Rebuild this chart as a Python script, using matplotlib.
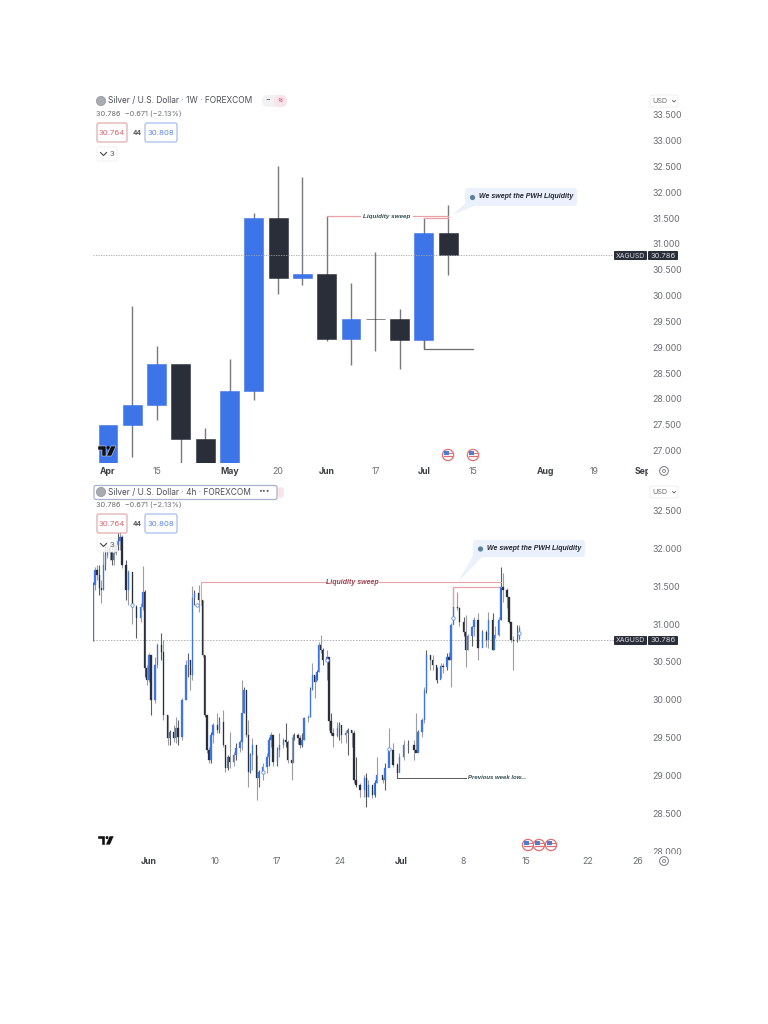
#!/usr/bin/env python3
# -*- coding: utf-8 -*-
"""Silver / U.S. Dollar screenshots, weekly chart on top and 4h chart below."""
import matplotlib
matplotlib.use("Agg")
import matplotlib.pyplot as plt
import matplotlib.patches as mpatches

plt.rcParams["font.family"] = ["Inter", "DejaVu Sans"]

BLUE = "#3d74e8"
DARK = "#2a2e39"
WICK = "#77797f"
GREY_TXT = "#6a6d74"
PINK = "#e9a3a6"

# ── Weekly candles ─────────────────────────────────────────────
wk_open  = [26.70, 27.49, 27.88, 28.68, 27.22, 26.70, 28.16, 31.50,
            30.35, 30.41, 29.16, 29.55, 29.54, 29.14, 31.22]
wk_close = [27.50, 27.88, 28.68, 27.22, 26.70, 28.16, 31.50, 30.35,
            30.41, 29.16, 29.55, 29.54, 29.14, 31.22, 30.786]
wk_high  = [27.50, 29.80, 29.02, 28.68, 27.43, 28.77, 31.60, 32.52,
            32.29, 31.54, 30.25, 30.85, 29.74, 31.50, 31.75]
wk_low   = [26.70, 26.87, 27.58, 26.70, 26.70, 26.70, 27.97, 30.04,
            30.20, 29.12, 28.66, 28.93, 28.57, 28.97, 30.39]
wk_tick_pos = [0, 2, 5, 7, 9, 11, 13, 15, 18, 20, 22]
wk_tick_lab = ["Apr", "15", "May", "20", "Jun", "17", "Jul", "15", "Aug", "19", "Sep"]
wk_months = ["Apr", "May", "Jun", "Jul", "Aug", "Sep"]
wk_prices = [33.5, 33.0, 32.5, 32.0, 31.5, 31.0, 30.5, 30.0, 29.5, 29.0, 28.5, 28.0, 27.5, 27.0]

# ── 4h bars, sparse index ──────────────────────────────────────
h4_idx = [0, 1, 2, 3, 4, 5, 6, 7, 8, 9,
          10, 11, 12, 13, 14, 16, 17, 19, 21, 23,
          24, 25, 26, 27, 28, 30, 31, 33, 34, 36,
          37, 39, 40, 41, 43, 45, 46, 47, 48, 49,
          51, 53, 54, 55, 56, 57, 58, 60, 61, 63,
          64, 65, 66, 68, 69, 71, 72, 73, 74, 75,
          76, 77, 79, 80, 82, 84, 85, 86, 87, 89,
          90, 92, 93, 94, 96, 97, 99, 100, 101, 102,
          104, 105, 106, 107, 108, 109, 110, 111, 113, 114,
          115, 116, 118, 119, 120, 122, 123, 125, 126, 127,
          129, 131, 132, 133, 135, 136, 137, 140, 141, 143,
          145, 147, 148, 150, 152, 155, 156, 157, 159, 160,
          161, 163, 164, 166, 168, 169, 171, 172, 173, 174,
          176, 177, 179, 180, 181, 183, 184, 186, 188, 190,
          191, 193, 194, 196, 197, 198, 200, 201, 202, 203,
          205, 206]
h4_close = [31.51, 31.71, 31.65, 31.48, 31.45, 31.78, 31.91, 32.00, 31.95, 31.84,
            31.94, 32.04, 32.09, 32.15, 31.78, 31.45, 31.69, 31.22, 31.08, 31.22,
            31.42, 30.42, 30.26, 30.59, 30.00, 30.46, 30.72, 30.63, 29.80, 29.50,
            29.58, 29.50, 29.63, 29.51, 30.00, 30.46, 30.53, 30.33, 31.34, 31.41,
            31.32, 30.59, 29.80, 29.34, 29.21, 29.54, 29.67, 29.60, 29.71, 29.41,
            29.10, 29.25, 29.18, 29.27, 29.37, 29.45, 29.83, 30.13, 29.54, 29.05,
            29.27, 29.40, 28.97, 29.05, 29.11, 29.25, 29.47, 29.54, 29.18, 29.34,
            29.40, 29.47, 29.45, 29.21, 29.17, 29.53, 29.50, 29.40, 29.47, 29.76,
            29.78, 30.13, 30.33, 30.24, 30.37, 30.72, 30.66, 30.53, 30.56, 29.72,
            29.56, 29.52, 29.63, 29.67, 29.54, 29.56, 29.60, 29.56, 28.94, 28.88,
            28.81, 28.97, 28.72, 28.88, 28.75, 28.90, 29.01, 28.94, 29.10, 29.34,
            29.14, 29.04, 29.25, 29.40, 29.40, 29.34, 29.30, 29.58, 29.73, 30.13,
            30.59, 30.53, 30.46, 30.26, 30.44, 30.43, 30.56, 30.53, 30.99, 31.22,
            31.21, 31.03, 30.90, 30.66, 30.84, 30.96, 31.05, 30.68, 30.89, 30.79,
            31.05, 30.66, 30.86, 31.05, 31.49, 31.45, 31.36, 31.03, 30.79, 30.77,
            30.80, 30.95]
h4_high = [31.55, 31.75, 31.78, 31.78, 31.58, 31.98, 32.04, 32.09, 32.09, 32.04,
           32.09, 32.11, 32.20, 32.23, 32.17, 31.84, 31.71, 31.62, 31.25, 31.28,
           31.77, 31.45, 30.46, 30.62, 30.59, 30.56, 30.75, 30.88, 30.79, 29.80,
           29.60, 29.67, 29.78, 29.73, 30.03, 30.53, 30.62, 30.43, 31.50, 31.45,
           31.52, 31.32, 30.59, 29.80, 29.38, 29.57, 29.70, 29.83, 29.78, 29.87,
           29.41, 29.27, 29.57, 29.31, 29.43, 29.47, 30.26, 30.17, 30.13, 29.73,
           29.30, 29.50, 29.27, 29.08, 29.17, 29.30, 29.51, 29.58, 29.47, 29.38,
           29.56, 29.50, 29.70, 29.47, 29.51, 29.56, 29.56, 29.53, 29.56, 29.78,
           29.80, 30.17, 30.49, 30.33, 30.40, 30.76, 30.86, 30.69, 30.66, 30.53,
           29.83, 29.63, 29.71, 29.71, 29.67, 29.60, 29.63, 29.60, 29.60, 29.25,
           28.90, 29.01, 29.03, 28.94, 28.81, 28.94, 29.25, 28.98, 29.17, 29.63,
           29.43, 29.17, 29.30, 29.47, 29.47, 29.47, 29.83, 29.60, 29.76, 30.17,
           30.66, 30.59, 30.59, 30.43, 30.49, 30.49, 30.62, 30.63, 31.01, 31.49,
           31.42, 31.22, 31.09, 31.12, 30.87, 30.97, 31.09, 31.14, 30.92, 30.92,
           31.16, 31.14, 30.97, 31.09, 31.75, 31.67, 31.48, 31.34, 31.03, 30.84,
           30.99, 30.99]
h4_low = [30.78, 31.45, 31.58, 31.38, 31.28, 31.45, 31.71, 31.87, 31.84, 31.78,
          31.78, 31.91, 31.98, 31.98, 31.74, 31.32, 31.25, 31.00, 30.82, 31.03,
          31.18, 30.30, 30.20, 30.24, 29.80, 29.96, 30.42, 30.53, 29.73, 29.41,
          29.41, 29.45, 29.43, 29.41, 29.47, 30.00, 30.30, 30.13, 30.26, 31.25,
          31.16, 30.57, 29.78, 29.30, 29.17, 29.17, 29.43, 29.56, 29.56, 29.38,
          29.05, 29.08, 29.10, 29.13, 29.21, 29.31, 29.34, 29.83, 29.51, 28.85,
          29.03, 29.08, 28.68, 28.85, 28.94, 29.03, 29.13, 29.38, 29.13, 29.13,
          29.24, 29.37, 29.38, 29.17, 28.94, 29.47, 29.42, 29.36, 29.38, 29.47,
          29.71, 29.78, 30.13, 30.03, 30.26, 30.37, 30.62, 30.46, 30.26, 29.60,
          29.53, 29.38, 29.51, 29.47, 29.43, 29.43, 29.27, 29.38, 28.90, 28.85,
          28.72, 28.72, 28.59, 28.72, 28.71, 28.72, 28.90, 28.90, 28.81, 29.17,
          29.11, 28.97, 29.08, 29.21, 29.30, 29.21, 29.34, 29.38, 29.51, 29.69,
          30.09, 30.39, 30.39, 30.22, 30.29, 30.36, 30.39, 30.53, 30.17, 31.01,
          31.18, 30.97, 30.84, 30.43, 30.66, 30.71, 30.84, 30.53, 30.75, 30.70,
          30.68, 30.66, 30.82, 30.84, 31.05, 31.29, 31.21, 31.01, 30.76, 30.39,
          30.76, 30.79]
h4_tick_pos = [27, 59, 89, 119, 149, 179, 209, 239, 263]
h4_tick_lab = ["Jun", "10", "17", "24", "Jul", "8", "15", "22", "26"]
h4_months = ["Jun", "Jul"]
h4_prices = [32.5, 32.0, 31.5, 31.0, 30.5, 30.0, 29.5, 29.0, 28.5, 28.0]
alert_idx = [19, 50, 82, 113, 143, 174, 206]
alert_price = [31.25, 31.25, 29.05, 30.53, 29.35, 31.08, 30.88]

LAST = 30.786


def make_axes(fig, left, right, top, bottom):
    ax = fig.add_axes([left / 768, 1 - bottom / 1024, (right - left) / 768, (bottom - top) / 1024])
    for s in ax.spines.values():
        s.set_visible(False)
    ax.yaxis.tick_right()
    ax.tick_params(length=0, labelsize=6.3, labelcolor=GREY_TXT, pad=3)
    ax.patch.set_alpha(0)
    return ax


def style_ticks(ax, xpos, xlab, months, prices):
    ax.set_xticks(xpos, xlab)
    ax.set_yticks(prices, [f"{p:.3f}" for p in prices])
    ax.tick_params(axis="x", pad=3)
    for lab in ax.get_xticklabels():
        if lab.get_text() in months:
            lab.set_fontweight("bold")
            lab.set_color("#3c3f46")


def header(ov, title, y0):
    ov.add_patch(mpatches.Circle((101, y0), 4.6, fc="#a9abb2", ec="#8d9096", lw=0.5))
    ov.text(108, y0, title, fontsize=6.0, color="#4a4d55", va="center")
    ov.text(96, y0 + 13, "30.786  −0.671 (−2.13%)", fontsize=5.3, color=GREY_TXT, va="center")
    top = y0 + 21
    ov.add_patch(mpatches.FancyBboxPatch((97, top + 1), 30, 19, boxstyle="round,pad=0,rounding_size=2",
                                         fc="white", ec="#e0a0a3", lw=0.8))
    ov.text(112, top + 11, "30.764", fontsize=5.6, color="#d9686e", ha="center", va="center")
    ov.text(137, top + 11, "44", fontsize=4.6, color="#555", ha="center", va="center", fontweight="bold")
    ov.add_patch(mpatches.FancyBboxPatch((145, top + 1), 32, 19, boxstyle="round,pad=0,rounding_size=2",
                                         fc="white", ec="#9db6ea", lw=0.8))
    ov.text(161, top + 11, "30.808", fontsize=5.6, color="#5f86df", ha="center", va="center")
    ov.add_patch(mpatches.FancyBboxPatch((97, top + 25), 20, 14, boxstyle="round,pad=0,rounding_size=2",
                                         fc="white", ec="#ececef", lw=0.6, alpha=0.85))
    ov.plot([100.5, 103.5, 106.5], [top + 30.5, top + 33.5, top + 30.5], color="#444", lw=0.8)
    ov.text(112, top + 32, "3", fontsize=5.6, color="#555", ha="center", va="center")


def usd_box(ov, y):
    ov.add_patch(mpatches.FancyBboxPatch((650, y), 28, 12, boxstyle="round,pad=0,rounding_size=2",
                                         fc="white", ec="#ececef", lw=0.6))
    ov.text(652, y + 6, "USD", fontsize=5.2, color=GREY_TXT, va="center")
    ov.plot([672.5, 674, 675.5], [y + 5.5, y + 7, y + 5.5], color="#555", lw=0.6)


def price_tag(ov, y):
    ov.add_patch(mpatches.FancyBboxPatch((614, y - 4.5), 33, 9, boxstyle="round,pad=0,rounding_size=1",
                                         fc=DARK, ec="none"))
    ov.add_patch(mpatches.FancyBboxPatch((648, y - 4.5), 30, 9, boxstyle="round,pad=0,rounding_size=1",
                                         fc=DARK, ec="none"))
    ov.text(630.5, y, "XAGUSD", fontsize=5, color="#d8d9dd", ha="center", va="center")
    ov.text(663, y, "30.786", fontsize=5.4, color="#d8d9dd", ha="center", va="center")


def callout(ov, x0, x1, y0, y1, tail_x, tail_y, text_x):
    ov.add_patch(mpatches.FancyBboxPatch((x0, y0), x1 - x0, y1 - y0, boxstyle="round,pad=0,rounding_size=3",
                                         fc="#eaf1fc", ec="none"))
    ov.add_patch(mpatches.Polygon([(x0 + 1, y1 - 3), (x0 + 9, y1), (tail_x, tail_y)], fc="#eaf1fc", ec="none"))
    ov.add_patch(mpatches.Circle((text_x - 6.5, (y0 + y1) / 2 + 0.5), 2.6, fc="#5c7f9c", ec="none"))
    ov.text(text_x, (y0 + y1) / 2, "We swept the PWH Liquidity", fontsize=5.0, family="Liberation Sans",
            style="italic", fontweight="bold", color="#23262e", va="center")


def tv_logo(ov, x, y, s):
    # s = Breite des Logos in Pixel
    u = s / 18
    ov.add_patch(mpatches.Polygon([(x, y), (x + 8 * u, y), (x + 8 * u, y + 10 * u), (x + 4.2 * u, y + 10 * u),
                                   (x + 4.2 * u, y + 3.6 * u), (x, y + 3.6 * u)], fc="#111", ec="white", lw=0.3))
    ov.add_patch(mpatches.Circle((x + 10.2 * u, y + 1.8 * u), 1.7 * u, fc="#111", ec="none"))
    ov.add_patch(mpatches.Polygon([(x + 13 * u, y), (x + 18 * u, y), (x + 13.5 * u, y + 10 * u),
                                   (x + 8.5 * u, y + 10 * u)], fc="#111", ec="white", lw=0.3))


def flag(ov, x, y):
    ov.add_patch(mpatches.Circle((x, y), 5.6, fc="white", ec="#df6f72", lw=0.9))
    ov.add_patch(mpatches.Rectangle((x - 3.8, y - 3.8), 5, 3.8, fc="#4e7fd0", ec="none"))
    ov.plot([x - 4.2, x + 4.2], [y + 1, y + 1], color="#df6f72", lw=0.9)
    ov.plot([x + 1.4, x + 3.8], [y - 2, y - 2], color="#df6f72", lw=0.7)


def gear(ov, y):
    ov.add_patch(mpatches.Circle((664, y), 4.4, fc="white", ec="#77797f", lw=0.7))
    ov.add_patch(mpatches.Circle((664, y), 1.5, fc="white", ec="#77797f", lw=0.6))


fig = plt.figure(figsize=(7.68, 10.24), dpi=100, facecolor="white")

# ── Weekly chart ───────────────────────────────────────────────
ax1 = make_axes(fig, 93, 648, 93, 463)
ax1.set_xlim(-0.617, 22.22)
ax1.set_ylim(26.756, 33.926)
wk_x = list(range(len(wk_open)))
wk_col = [BLUE if c >= o else DARK for o, c in zip(wk_open, wk_close)]
ax1.vlines(wk_x, wk_low, wk_high, color=WICK, lw=1.0, zorder=2)
ax1.bar(wk_x, [abs(c - o) for o, c in zip(wk_open, wk_close)], bottom=[min(o, c) for o, c in zip(wk_open, wk_close)],
        width=0.78, color=wk_col, edgecolor=wk_col, lw=0.4, zorder=3)
ax1.plot([-0.617, 20.8], [LAST, LAST], color="#a3a5a9", lw=0.6, ls=(0, (1.5, 1.5)), zorder=4)

ax1.plot([9, 10.35], [31.54, 31.54], color=PINK, lw=0.9, zorder=3)
ax1.plot([12.55, 14], [31.54, 31.54], color=PINK, lw=0.9, zorder=3)
ax1.plot([13, 14], [31.50, 31.50], color=PINK, lw=0.9, zorder=3)
ax1.text(11.45, 31.54, "Liquidity sweep", fontsize=4.5, family="Liberation Sans", style="italic",
         fontweight="bold", color="#2f4a4f", ha="center", va="center")
ax1.plot([13, 13, 15], [29.14, 28.97, 28.97], color="#6b6d72", lw=0.9, zorder=3)
style_ticks(ax1, wk_tick_pos, wk_tick_lab, wk_months, wk_prices)

# ── 4h chart ───────────────────────────────────────────────────
ax2 = make_axes(fig, 93, 648, 484, 853)
ax2.set_xlim(0, 268.1)
ax2.set_ylim(27.98, 32.847)
h4_open = [30.78] + h4_close[:-1]
h4_col = [BLUE if c >= o else DARK for o, c in zip(h4_open, h4_close)]
h4_wick = ["#9b9da2" if (i % 3) else "#5b5d63" for i in range(len(h4_idx))]
ax2.vlines(h4_idx, h4_low, h4_high, color=h4_wick, lw=0.8, zorder=2)
ax2.bar(h4_idx, [abs(c - o) for o, c in zip(h4_open, h4_close)], bottom=[min(o, c) for o, c in zip(h4_open, h4_close)],
        width=0.65, color=h4_col, edgecolor=h4_col, lw=0.2, zorder=3)
ax2.plot([0, 252], [LAST, LAST], color="#b0b2b6", lw=0.7, ls=(0, (1.5, 1.5)), zorder=1)
ax2.scatter(alert_idx, alert_price, s=6, facecolor="white", edgecolor="#6a8fdc", lw=0.6, zorder=5)

ax2.plot([52, 52, 113], [31.25, 31.55, 31.55], color=PINK, lw=0.8, zorder=2)
ax2.plot([138, 197], [31.55, 31.55], color=PINK, lw=0.8, zorder=2)
ax2.plot([174, 174, 197], [31.22, 31.49, 31.49], color=PINK, lw=0.9, zorder=2)
ax2.text(125.5, 31.55, "Liquidity sweep", fontsize=5, family="Liberation Sans", style="italic",
         fontweight="bold", color="#9a3d48", ha="center", va="center")
ax2.plot([147, 147, 180], [29.05, 28.97, 28.97], color="#55575c", lw=0.7, zorder=2)
ax2.text(181, 28.97, "Previous week low", fontsize=4.3, family="Liberation Sans", style="italic",
         fontweight="bold", color="#2f4a4f", va="center")
ax2.plot([206.5, 208.5], [28.97, 28.97], color="#9a9ca0", lw=0.5)
style_ticks(ax2, h4_tick_pos, h4_tick_lab, h4_months, h4_prices)

# ── UI-Overlay in Pixelkoordinaten ─────────────────────────────
ov = fig.add_axes([0, 0, 1, 1], zorder=10)
ov.set_xlim(0, 768)
ov.set_ylim(1024, 0)
ov.axis("off")
ov.patch.set_alpha(0)

# abgeschnittene Achsenbeschriftungen wie im Screenshot
ov.add_patch(mpatches.Rectangle((648, 465), 14, 12, fc="white", ec="none"))
ov.add_patch(mpatches.Rectangle((649, 853.5), 30, 5, fc="white", ec="none"))

header(ov, "Silver / U.S. Dollar · 1W · FOREXCOM", 101)
ov.add_patch(mpatches.FancyBboxPatch((262, 95), 25, 12, boxstyle="round,pad=0,rounding_size=6", fc="#f2f2f4", ec="none"))
ov.add_patch(mpatches.FancyBboxPatch((274, 95), 13, 12, boxstyle="round,pad=0,rounding_size=6", fc="#fbe3ea", ec="none"))
ov.text(268, 100.5, "−", fontsize=5, color="#666", ha="center", va="center", fontweight="bold")
ov.text(280, 100.5, "≈", fontsize=5.5, color="#d64a70", ha="center", va="center", fontweight="bold")

ov.add_patch(mpatches.FancyBboxPatch((277, 487), 7, 11, boxstyle="round,pad=0,rounding_size=4", fc="#fbe3ea", ec="none"))
ov.add_patch(mpatches.FancyBboxPatch((94, 485.5), 183, 14, boxstyle="round,pad=0,rounding_size=2",
                                     fc="white", ec="#a7b3cc", lw=0.9))
header(ov, "Silver / U.S. Dollar · 4h · FOREXCOM", 492)
ov.text(264, 491.5, "•••", fontsize=5, color="#666", ha="center", va="center")

usd_box(ov, 95)
usd_box(ov, 486)
price_tag(ov, 255.5)
price_tag(ov, 640.5)
callout(ov, 465, 577, 188, 206, 452, 215, 479)
callout(ov, 473, 585, 540, 557, 458, 582, 487)
tv_logo(ov, 98, 446, 18)
tv_logo(ov, 98, 836, 16)
flag(ov, 448, 455)
flag(ov, 473, 455)
flag(ov, 528, 845)
flag(ov, 539, 845)
flag(ov, 551, 845)
gear(ov, 471)
gear(ov, 861)

fig.savefig("out.png", dpi=100, facecolor="white")
